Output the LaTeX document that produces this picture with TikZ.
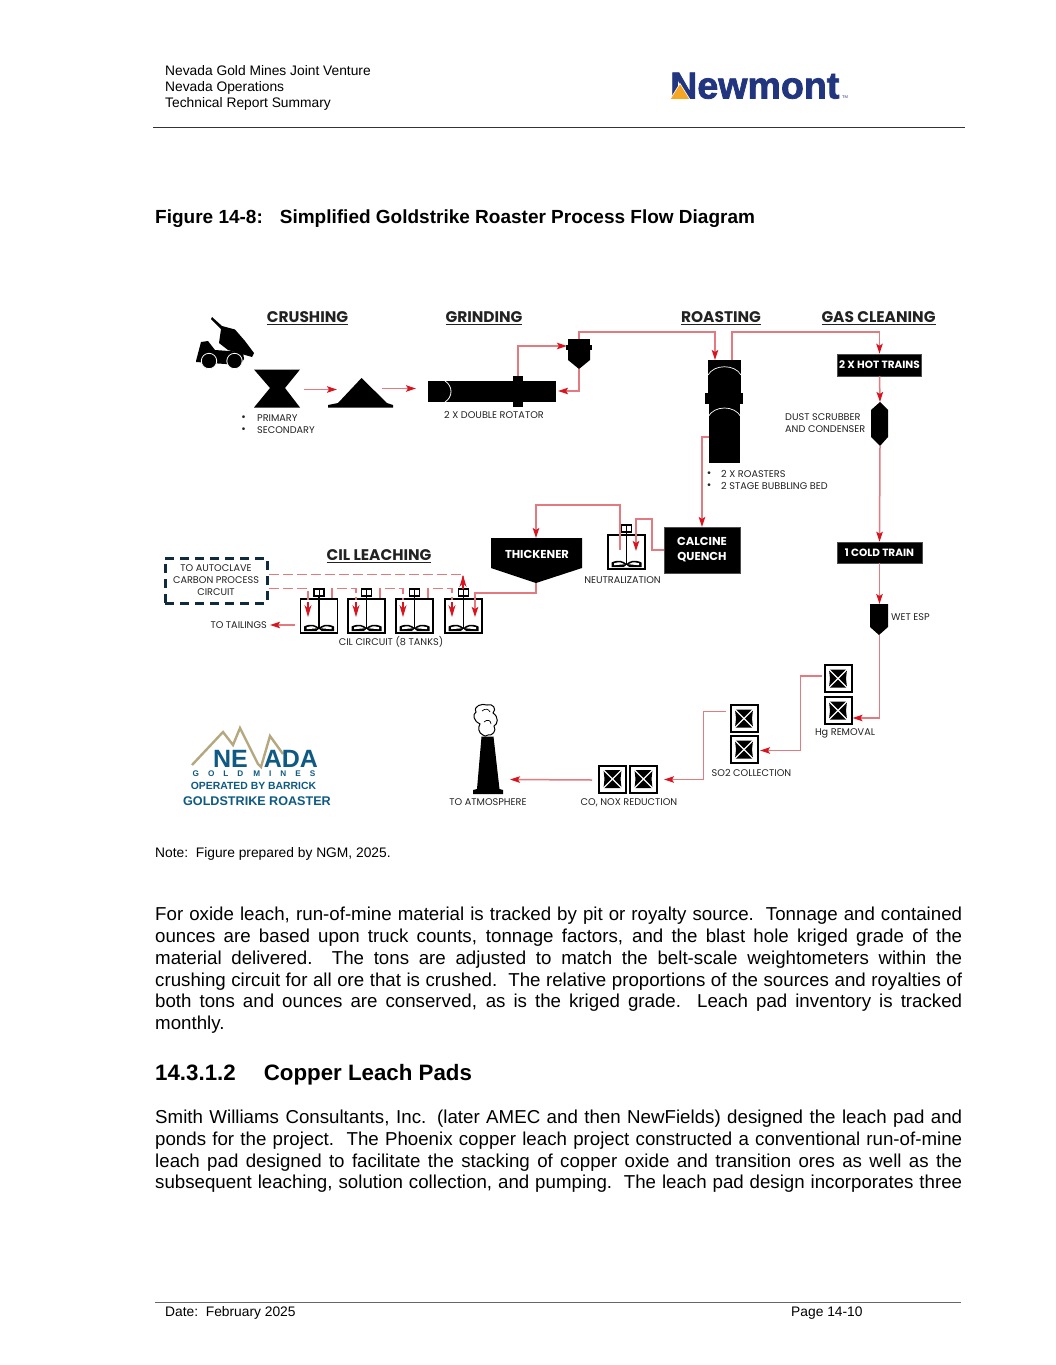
\documentclass[tikz,border=0pt]{standalone}
\usepackage{fontspec}
\setmainfont{Liberation Sans}
\newfontfamily\dg{Poppins}
\newfontfamily\nmf{Liberation Sans Bold}[FakeBold=2]
\usetikzlibrary{arrows.meta}
\definecolor{flowline}{HTML}{E27A80}
\definecolor{flowhead}{HTML}{D9141F}
\definecolor{navy}{HTML}{0F2B3D}
\definecolor{ngmblue}{HTML}{0F5A82}
\definecolor{ngmtan}{HTML}{B5A77E}
\definecolor{nmblue}{HTML}{22357F}
\definecolor{nmorange}{HTML}{F5A623}
\definecolor{ink}{HTML}{222222}
\newcommand{\JL}[1]{\hbox to 807pt{\spaceskip=.278em plus 1fil\relax #1}}
\newcommand{\JE}[1]{\hbox{#1}}
\tikzset{
  x=1pt,y=-1pt,
  flow/.style={draw=flowline,line width=1.5pt,-{Stealth[length=10pt,width=6.5pt,color=flowhead,inset=2pt]}},
  flowdash/.style={draw=flowline,line width=1.6pt,dash pattern=on 10pt off 4pt},
  head/.style={font=\dg\bfseries\fontsize{15.4}{17}\selectfont,text=ink,inner sep=0pt},
  lab/.style={font=\dg\fontsize{9.7}{12}\selectfont,text=ink,inner sep=0pt,align=center},
  labl/.style={lab,anchor=west,align=left},
  bul/.style={inner sep=0pt,font=\fontsize{10}{12}\selectfont,text=ink},
  whitebox/.style={fill=black,draw=black!70,line width=.5pt,text=white,font=\dg\bfseries\fontsize{10.5}{15}\selectfont,align=center,inner sep=0pt},
  page/.style={font=\fontsize{13.8}{16}\selectfont,text=black,inner sep=0pt,anchor=base west},
  body/.style={font=\fontsize{18.7}{21.8}\selectfont,text=black,inner sep=0pt,anchor=north west},
}
\newcommand{\tank}[2]{%
  \begin{scope}[shift={(#1,#2)}]
    \draw[black,line width=1.8pt] (-18.5,0) rectangle (18.5,34);
    \draw[black,line width=1.4pt,fill=white] (-5,-10) rectangle (5,-3);
    \draw[black,line width=.8pt] (0,-10) -- (0,-3);
    \draw[black,line width=1.6pt] (0,-3) -- (0,30);
    \fill[black] (-15,27.5) .. controls (-8,24) and (-3,26) .. (0,29) .. controls (3,26) and (8,24) .. (15,27.5) -- (15,32) -- (-15,32) -- cycle;
    \fill[white] (-12.5,28.3) .. controls (-7,26.5) and (-4,27.5) .. (-2,29.3) -- (-12.5,30.2) -- cycle;
    \fill[white] (12.5,28.3) .. controls (7,26.5) and (4,27.5) .. (2,29.3) -- (12.5,30.2) -- cycle;
    \fill[white] (-2.5,32) -- (0,30) -- (2.5,32) -- cycle;
  \end{scope}}
\newcommand{\filt}[2]{%
  \begin{scope}[shift={(#1,#2)}]
    \draw[black,line width=2pt] (-13.5,-13.5) rectangle (13.5,13.5);
    \fill[black] (-9,-9) -- (9,-9) -- (8,0) -- (9,9) -- (-9,9) -- (-8,0) -- cycle;
    \draw[white,line width=1.3pt] (-9.5,-9.5) -- (9.5,9.5) (9.5,-9.5) -- (-9.5,9.5);
  \end{scope}}
\begin{document}
\begin{tikzpicture}
\useasboundingbox (0,0) rectangle (1055,1365);
\fill[white] (0,0) rectangle (1055,1365);
% header
\node[page] (h1) at (165,75.5) {Nevada Gold Mines Joint Venture};
\node[page] (h2) at (165,91) {Nevada Operations};
\node[page] (h3) at (165,107) {Technical Report Summary};
\draw[black!80,line width=.8pt] (153,127.5) -- (965,127.5);
% Newmont logo
\node[inner sep=0pt,anchor=base west,text=nmblue,font=\nmf\fontsize{37.6}{38}\selectfont] (nm) at (670,98.5) {Newmont};
\fill[nmorange,draw=white,line width=.6pt] (670,99.5) -- (680,83.5) -- (690,99.5) -- cycle;
\node[inner sep=0pt,text=nmblue,font=\fontsize{4}{4}\selectfont] (tm) at (845,97) {TM};
% title
\node[page,font=\bfseries\fontsize{19}{22}\selectfont] (title) at (155,223) {Figure 14-8:\hspace{17pt}Simplified Goldstrike Roaster Process Flow Diagram};
% headings
\node[head] (hc) at (307.5,318.5) {\underline{CRUSHING}};
\node[head] (hg) at (484,318.5) {\underline{GRINDING}};
\node[head] (hr) at (721,318.5) {\underline{ROASTING}};
\node[head] (hgc) at (878.5,318.5) {\underline{GAS CLEANING}};
\node[head] (hl) at (379,556) {\underline{CIL LEACHING}};
% truck
\fill[black] (212,317) -- (222,326) -- (235,329.5) -- (245,341) -- (254,353) -- (252,357) -- (228,350) -- (219,343) -- (221,329) -- (211,319) -- cycle;
\fill[black] (196,361) -- (201,342) -- (208,341) -- (215,350) -- (243,352) -- (244,359) -- (240,365) -- (196,362) -- cycle;
\draw[white,line width=.8pt,fill=black] (209,361) circle (7.7);
\draw[white,line width=.8pt,fill=black] (234.5,361) circle (7.7);
% crusher
\fill[black] (254,369.5) -- (300,369.5) -- (285,388) -- (300,407.5) -- (254,407.5) -- (270,388) -- cycle;
\coordinate (crushOut) at (304,389.5);
\node[bul] (b1) at (243.5,418) {•};
\node[labl] (l1) at (257,418) {PRIMARY};
\node[bul] (b2) at (243.5,430) {•};
\node[labl] (l2) at (257,430) {SECONDARY};
% stockpile
\fill[black] (361.5,378) -- (387,403) -- (393,405) -- (393,407.5) -- (328,407.5) -- (328,405) -- (338,403) -- cycle;
\coordinate (pileIn) at (337,389.5);
\coordinate (pileOut) at (382,388.5);
\coordinate (millIn) at (416,388.5);
% mill
\fill[black] (428,381) rectangle (556,402);
\fill[black] (513,376) rectangle (523,407);
\draw[white,line width=.8pt] (445,381) .. controls (453,386) and (453,397) .. (445,402);
\coordinate (millTop) at (518,376);
\coordinate (millRight) at (558,391);
\node[lab] (lm) at (494,415) {2 X DOUBLE ROTATOR};
% cyclone
\fill[black] (568,339) rectangle (590,345);
\fill[black] (566,345) rectangle (592,350);
\fill[black] (568,350) -- (590,350) -- (590,360) -- (579,369) -- (568,360) -- cycle;
\coordinate (cycIn) at (567,346);
\coordinate (cycTop) at (579,339);
\coordinate (cycBot) at (579,369);
% roaster
\fill[black] (708,360) rectangle (741,393);
\fill[black] (705,393) rectangle (743,404);
\fill[black] (709,404) rectangle (740,463);
\draw[white,line width=.7pt] (708,375) .. controls (714,364) and (735,364) .. (741,375);
\draw[white,line width=.7pt] (708,417) .. controls (714,405) and (735,405) .. (741,417);
\coordinate (roastIn) at (715,360);
\coordinate (roastOut) at (732,360);
\coordinate (roastSide) at (709,437);
\node[bul] (b3) at (709,474) {•};
\node[labl] (l3) at (721,474) {2 X ROASTERS};
\node[bul] (b4) at (709,486) {•};
\node[labl] (l4) at (721,486) {2 STAGE BUBBLING BED};
% hot train
\node[whitebox,minimum width=84pt,minimum height=22pt] (hot) at (879.5,365) {2 X HOT TRAINS};
\fill[black] (880,402) -- (888,410) -- (888,437) -- (880,446) -- (871,437) -- (871,410) -- cycle;
\coordinate (scrubTop) at (880,402);
\coordinate (scrubBot) at (880,446);
\node[lab,anchor=west,align=left] (ldust) at (785,423) {DUST SCRUBBER\\AND CONDENSER};
% cold train
\node[whitebox,minimum width=85pt,minimum height=21pt] (cold) at (879.5,552.5) {1 COLD TRAIN};
% esp
\fill[black] (870,604) -- (888,604) -- (888,627) -- (879,635) -- (870,627) -- cycle;
\coordinate (espTop) at (879.5,604);
\coordinate (espBot) at (879.5,635);
\node[labl] (lesp) at (891,617) {WET ESP};
% filters
\filt{838}{678.5}
\filt{838}{710.5}
\filt{744}{718.5}
\filt{744}{749.5}
\filt{612.5}{779}
\filt{643.5}{779}
\coordinate (hgIn) at (852.5,718);
\coordinate (hgOut) at (822,676);
\coordinate (soIn) at (760,750.5);
\coordinate (soOut) at (726,711.5);
\coordinate (coIn) at (664,779.5);
\coordinate (coOut) at (592,780);
\node[lab] (lhg) at (845,733) {Hg REMOVAL};
\node[lab] (lso) at (751.5,772.5) {SO2 COLLECTION};
\node[lab] (lco) at (629,803) {CO, NOX REDUCTION};
% stack
\fill[black] (481.5,736.5) -- (493.5,736.5) -- (499.5,789) -- (503,790) -- (503,794) -- (473,794) -- (473,790) -- (477,789) -- cycle;
\draw[black,line width=1pt] (483,735) .. controls (478,733) and (478,727) .. (480,724) .. controls (474,722) and (472,714) .. (476,712) .. controls (473,706) and (482,703) .. (487,705) .. controls (493,703) and (497,709) .. (493,713) .. controls (499,717) and (498,724) .. (494,726) .. controls (497,731) and (492,736) .. (488,735) .. controls (486,737) and (484,736) .. (483,735) -- cycle;
\draw[black,line width=.7pt] (482,711) .. controls (485,708) and (489,709) .. (490,712) (484,722) .. controls (487,719) and (491,720) .. (491,724);
\coordinate (stackIn) at (510,779.5);
\node[lab] (lst) at (488,802.5) {TO ATMOSPHERE};
% thickener
\fill[black] (491,538) -- (582,538) -- (582,568) -- (536,583) -- (491,568) -- cycle;
\node[inner sep=0pt,text=white,font=\dg\bfseries\fontsize{11.5}{12}\selectfont] (thick) at (537,554) {THICKENER};
\coordinate (thickTop) at (536,538);
\coordinate (thickBot) at (536,583);
% quench
\node[whitebox,minimum width=76pt,minimum height=46pt,font=\dg\bfseries\fontsize{11.5}{15}\selectfont] (quench) at (702,550) {CALCINE\\QUENCH};
% neutralization
\tank{626.5}{535}
\coordinate (neuOut) at (620,550);
\coordinate (neuIn) at (636,551);
\node[lab] (lneu) at (622.5,580.5) {NEUTRALIZATION};
% CIL tanks
\tank{319}{599}
\tank{366.5}{599}
\tank{414.5}{599}
\tank{463.5}{599}
\coordinate (t4in) at (475,617);
\node[lab] (lcil) at (391,641.5) {CIL CIRCUIT (8 TANKS)};
% autoclave
\node[draw=navy,line width=3pt,dash pattern=on 9pt off 6pt,minimum width=102pt,minimum height=45pt,inner sep=0pt,lab,text=ink] (auto) at (216,580.5) {TO AUTOCLAVE\\CARBON PROCESS\\CIRCUIT};
\node[lab,anchor=east] (ltail) at (267,625) {TO TAILINGS};
% flows
\draw[flow] (crushOut) -- (pileIn);
\draw[flow] (pileOut) -- (millIn);
\draw[flow] (millTop) |- (cycIn);
\draw[flow] (cycBot) |- (millRight);
\draw[flow] (cycTop) |- (700,332) -| (roastIn);
\draw[flow] (roastOut) |- (800,332) -| (hot.north);
\draw[flow] (hot.south) -- (scrubTop);
\draw[flow] (scrubBot) -- (cold.north);
\draw[flow] (cold.south) -- (espTop);
\draw[flow] (espBot) |- (hgIn);
\draw[flow] (hgOut) -- (800.5,676) |- (soIn);
\draw[flow] (soOut) -- (703.5,711.5) |- (coIn);
\draw[flow] (coOut) -- (stackIn);
\draw[flow] (roastSide) -- (702,437) -- (702,527);
\draw[flow] (quench.west) -- (652,550) -- (652,519) -- (636,519) -- (neuIn);
\draw[flow] (neuOut) -- (620,505) -- (536,505) -- (thickTop);
\draw[flow] (thickBot) |- (475,593) -- (t4in);
\draw[flow] (295,625) -- (270,625);
% dashed
\draw[flowdash] (auto.east |- 0,574.5) -- (463,574.5) -- (463,585);
\draw[flowhead,line width=1.2pt,-{Stealth[length=12pt,width=7pt]}] (463,589) -- (463,575);
\draw[flowdash] (auto.east |- 0,588.5) -- (308,588.5) -- (308,600);
\draw[flowdash] (332,598) -- (332,588.5) -- (356,588.5) -- (356,600);
\draw[flowdash] (380,598) -- (380,588.5) -- (403,588.5) -- (403,600);
\draw[flowdash] (428,598) -- (428,588.5) -- (452,588.5) -- (452,600);
\foreach \ax in {308,356,403,452} \draw[flowhead,line width=1.2pt,-{Stealth[length=12pt,width=7pt]}] (\ax,602) -- (\ax,617);
% logo
\draw[ngmtan,line width=2.4pt,line join=miter] (192,765) -- (223,732) -- (233,745) -- (240,728) -- (258,764) -- (261,767) -- (270,736) -- (283,754);
\node[inner sep=0pt,anchor=base,text=ngmblue,font=\bfseries\fontsize{25}{26}\selectfont] (nev) at (265.5,767) {NE\hspace{16pt}ADA};
\node[inner sep=0pt,anchor=base,text=ngmblue,font=\bfseries\fontsize{8.2}{9}\selectfont] (gm) at (254,776.5) {G\hspace{9pt}O\hspace{9pt}L\hspace{9pt}D\hspace{10pt}M\hspace{9pt}I\hspace{9pt}N\hspace{9pt}E\hspace{9pt}S};
\node[inner sep=0pt,anchor=base,text=ngmblue,font=\bfseries\fontsize{10.4}{11}\selectfont] (ob) at (253.5,789) {OPERATED BY BARRICK};
\node[inner sep=0pt,anchor=base,text=ngmblue,font=\bfseries\fontsize{12.6}{13}\selectfont] (gr) at (257,805.5) {GOLDSTRIKE ROASTER};
% note
\node[page] (note) at (155,857) {Note:\ \ Figure prepared by NGM, 2025.};
% body
\node[body] (p1) at (155,907) {\vbox{\baselineskip=21.8pt
\JL{For oxide leach, run-of-mine material is tracked by pit or royalty source.\ \ Tonnage and contained}
\JL{ounces are based upon truck counts, tonnage factors, and the blast hole kriged grade of the}
\JL{material delivered.\ \ The tons are adjusted to match the belt-scale weightometers within the}
\JL{crushing circuit for all ore that is crushed.\ \ The relative proportions of the sources and royalties of}
\JL{both tons and ounces are conserved, as is the kriged grade.\ \ Leach pad inventory is tracked}
\JE{monthly.}}};
\node[inner sep=0pt,anchor=base west,font=\bfseries\fontsize{22.3}{24}\selectfont] (h2b) at (155,1080) {14.3.1.2\hspace{28pt}Copper Leach Pads};
\node[body] (p2) at (155,1109.7) {\vbox{\baselineskip=21.8pt
\JL{Smith Williams Consultants, Inc. (later AMEC and then NewFields) designed the leach pad and}
\JL{ponds for the project.\ \ The Phoenix copper leach project constructed a conventional run-of-mine}
\JL{leach pad designed to facilitate the stacking of copper oxide and transition ores as well as the}
\JL{subsequent leaching, solution collection, and pumping.\ \ The leach pad design incorporates three}}};
% footer
\draw[black!60,line width=.7pt] (155,1302) -- (961,1302);
\node[page] (f1) at (165,1316) {Date:\ \ February 2025};
\node[page] (f2) at (791,1316) {Page 14-10};
\end{tikzpicture}
\end{document}
